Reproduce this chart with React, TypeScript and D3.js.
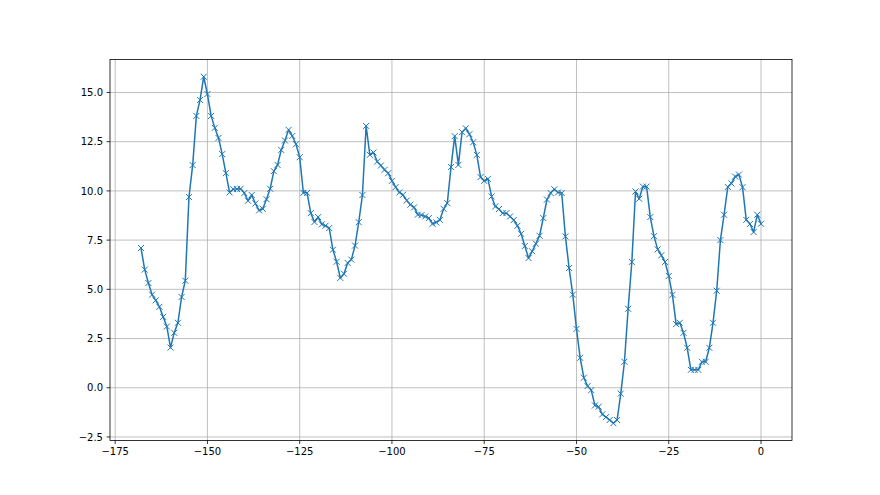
import React, { useEffect, useRef } from "react";
import * as d3 from "d3";

const xStart = -168;
const values: number[] = [
  7.10, 6.00, 5.32, 4.73, 4.44, 4.11, 3.60, 3.11, 2.04, 2.79,
  3.30, 4.61, 5.44, 9.69, 11.31, 13.81, 14.62, 15.80, 14.92, 13.81,
  13.20, 12.69, 11.87, 10.90, 9.92, 10.09, 10.10, 10.11, 9.89, 9.50,
  9.79, 9.36, 9.01, 9.09, 9.58, 10.11, 11.00, 11.32, 12.08, 12.56,
  13.10, 12.79, 12.37, 11.71, 9.90, 9.90, 8.87, 8.42, 8.67, 8.30,
  8.23, 8.11, 7.01, 6.40, 5.58, 5.79, 6.34, 6.51, 7.22, 8.41,
  9.79, 13.30, 11.83, 11.95, 11.49, 11.29, 11.07, 10.90, 10.51, 10.19,
  9.92, 9.80, 9.51, 9.30, 9.16, 8.79, 8.77, 8.70, 8.62, 8.33,
  8.40, 8.53, 9.09, 9.38, 11.21, 12.78, 11.32, 12.98, 13.18, 12.88,
  12.47, 11.83, 10.70, 10.51, 10.61, 9.72, 9.21, 9.08, 8.87, 8.87,
  8.70, 8.52, 8.23, 7.82, 7.20, 6.59, 6.93, 7.32, 7.72, 8.62,
  9.56, 9.89, 10.08, 9.92, 9.89, 7.69, 6.08, 4.73, 2.99, 1.52,
  0.51, 0.08, -0.12, -0.90, -0.96, -1.35, -1.49, -1.64, -1.80, -1.64,
  -0.30, 1.32, 4.01, 6.39, 9.97, 9.60, 10.22, 10.22, 8.67, 7.70,
  7.03, 6.73, 6.39, 5.68, 4.72, 3.23, 3.30, 2.79, 2.03, 0.91,
  0.91, 0.91, 1.32, 1.32, 2.03, 3.30, 4.93, 7.50, 8.79, 10.20,
  10.38, 10.73, 10.83, 10.19, 8.53, 8.32, 7.91, 8.79, 8.33,
];
const xTicks = [-175, -150, -125, -100, -75, -50, -25, 0];
const yTicks = [-2.5, 0, 2.5, 5, 7.5, 10, 12.5, 15];

const W = 880;
const H = 495;
const M = { left: 110, right: 88, top: 59.4, bottom: 54.5 };
const FONT = "'DejaVu Sans', sans-serif";

export default function App() {
  const ref = useRef<SVGSVGElement | null>(null);

  useEffect(() => {
    const svg = d3.select(ref.current);
    svg.selectAll("*").remove();
    const data = values.map((v, i) => ({ x: xStart + i, y: v }));
    const [x0, x1] = d3.extent(data, (d) => d.x) as [number, number];
    const [y0, y1] = d3.extent(data, (d) => d.y) as [number, number];
    const px = (x1 - x0) * 0.05;
    const py = (y1 - y0) * 0.05;
    const x = d3.scaleLinear().domain([x0 - px, x1 + px]).range([M.left, W - M.right]);
    const y = d3.scaleLinear().domain([y0 - py, y1 + py]).range([H - M.bottom, M.top]);

    const g = svg.append("g");
    // grid
    g.selectAll("line.gx")
      .data(xTicks)
      .join("line")
      .attr("x1", (d) => x(d))
      .attr("x2", (d) => x(d))
      .attr("y1", M.top)
      .attr("y2", H - M.bottom)
      .attr("stroke", "#b0b0b0")
      .attr("stroke-width", 0.8);
    g.selectAll("line.gy")
      .data(yTicks)
      .join("line")
      .attr("x1", M.left)
      .attr("x2", W - M.right)
      .attr("y1", (d) => y(d))
      .attr("y2", (d) => y(d))
      .attr("stroke", "#b0b0b0")
      .attr("stroke-width", 0.8);

    // line
    const line = d3
      .line<{ x: number; y: number }>()
      .x((d) => x(d.x))
      .y((d) => y(d.y));
    g.append("path")
      .datum(data)
      .attr("d", line)
      .attr("fill", "none")
      .attr("stroke", "#1f77b4")
      .attr("stroke-width", 1.5)
      .attr("stroke-linejoin", "round")
      .attr("stroke-linecap", "square");

    // markers
    const s = 3;
    g.selectAll("path.mk")
      .data(data)
      .join("path")
      .attr(
        "d",
        (d) =>
          `M${x(d.x) - s},${y(d.y) - s}L${x(d.x) + s},${y(d.y) + s}M${x(d.x) - s},${y(d.y) + s}L${x(d.x) + s},${y(d.y) - s}`
      )
      .attr("stroke", "#1f77b4")
      .attr("stroke-width", 1)
      .attr("fill", "none");

    // spines
    g.append("rect")
      .attr("x", M.left)
      .attr("y", M.top)
      .attr("width", W - M.left - M.right)
      .attr("height", H - M.top - M.bottom)
      .attr("fill", "none")
      .attr("stroke", "#000")
      .attr("stroke-width", 0.8);

    // x ticks
    const xt = g.selectAll("g.xt").data(xTicks).join("g").attr("transform", (d) => `translate(${x(d)},${H - M.bottom})`);
    xt.append("line").attr("y2", 3.5).attr("stroke", "#000").attr("stroke-width", 0.8);
    xt.append("text")
      .attr("y", 7)
      .attr("dy", "0.76em")
      .attr("text-anchor", "middle")
      .attr("font-family", FONT)
      .attr("font-size", 10)
      .attr("fill", "#000")
      .text((d) => (d < 0 ? "\u2212" + Math.abs(d) : String(d)));

    const yt = g.selectAll("g.yt").data(yTicks).join("g").attr("transform", (d) => `translate(${M.left},${y(d)})`);
    yt.append("line").attr("x2", -3.5).attr("stroke", "#000").attr("stroke-width", 0.8);
    yt.append("text")
      .attr("x", -7)
      .attr("dy", "0.36em")
      .attr("text-anchor", "end")
      .attr("font-family", FONT)
      .attr("font-size", 10)
      .attr("fill", "#000")
      .text((d) => (d < 0 ? "\u2212" + Math.abs(d).toFixed(1) : d.toFixed(1)));
  }, []);

  return (
    <svg
      ref={ref}
      width={W}
      height={H}
      style={{ position: "absolute", left: 0, top: 0, background: "#fff" }}
    />
  );
}
